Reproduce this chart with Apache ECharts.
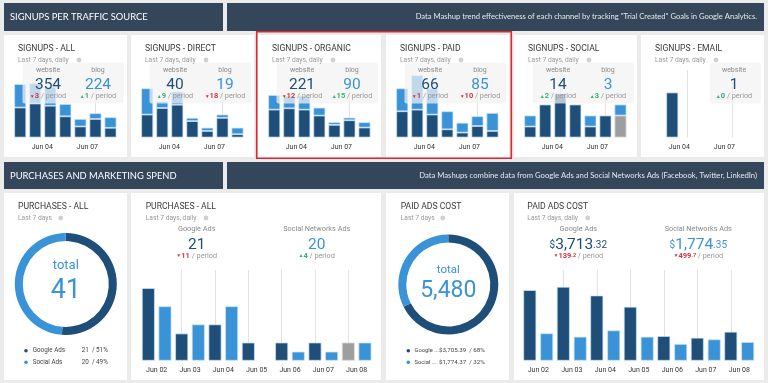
<!DOCTYPE html>
<html><head><meta charset="utf-8">
<script src="https://cdn.jsdelivr.net/npm/echarts@6/dist/echarts.min.js"></script>
<style>html,body{margin:0;padding:0;background:#ebebeb;}#c{width:768px;height:383px;}</style>
</head><body><div id="c"></div>
<script>
// ---------- DATA ----------
const days = ['Jun 02','Jun 03','Jun 04','Jun 05','Jun 06','Jun 07','Jun 08'];

const allWebsite = [68,77,72,48,25,42,22];
const allBlog = [53,46,43,28,17,13,24];
const directWebsite = [7,9,10,5,2,6,1];
const directBlog = [8,2,4,1,1,1,2];
const organicWebsite = [42,44,42,33,19,26,15];
const organicBlog = [22,19,21,12,4,4,8];
const paidWebsite = [16,17,14,5,3,7,4];
const paidBlog = [14,21,16,11,6,6,11];
const socialWebsite = [1,3,4,3,1,2,0];
const socialWebsiteIncomplete = [0,0,0,0,0,0,2];
const socialBlog = [1,0,0,0,1,0,1];
const emailWebsite = [0,1,0,0,0,0,0];

const topTitles = ['SIGNUPS - ALL','SIGNUPS - DIRECT','SIGNUPS - ORGANIC','SIGNUPS - PAID','SIGNUPS - SOCIAL','SIGNUPS - EMAIL'];
const websiteTotals = ['354','40','221','66','14','1'];
const websiteDeltas = ['▼3','▲9','▼12','▼1','▲2','▲0'];
const blogTotals = ['224','19','90','85','3',null];
const blogDeltas = ['▲1','▼18','▲15','▼10','▲3',null];

const purchGoogle = [8,3,4,2,2,2,0];
const purchGoogleIncomplete = [0,0,0,0,0,0,2];
const purchSocial = [6,4,6,0,1,1,2];
const costGoogle = [770.4,806.6,711.9,588.6,269.2,250.7,316.0];
const costSocial = [299,262,331,262,183,233,204];

const purchaseNames = ['Google Ads','Social Ads'];
const purchaseValues = [21,20];
const purchaseLegend = ['21  / 51%','20  / 49%'];
const costNames = ['Google ...','Social ...'];
const costValues = [3705.39,1774.37];
const costLegend = ['$3,705.39  / 68%','$1,774.37  / 32%'];

// ---------- STYLE / LAYOUT ----------
const FONT = 'Roboto, "Noto Sans", sans-serif';
const HFONT = 'Lato, "Open Sans", sans-serif';
const DARK = '#1f4e79', LIGHT = '#3a93d7', GRAY = '#9e9e9e', RED = '#d2363c', GREEN = '#33b36c';
const HEAD = '#34465a';
const BORDER = 'rgba(205,228,246,0.9)';

const graphics = [], grids = [], xAxes = [], yAxes = [], series = [];
const nz = a => a.map(v => v === 0 ? null : v);

function rect(x, y, w, h, fill, z, r) {
  graphics.push({type:'rect', silent:true, z:z, shape:{x:x, y:y, width:w, height:h, r:r||0}, style:{fill:fill}});
}
function text(x, y, str, o) {
  o = o || {};
  const st = {text:str, fontFamily:o.font||FONT, fontSize:o.size||7, fill:o.color||'#888',
    fontWeight:o.weight||'normal',
    align:o.align||'left', verticalAlign:'middle', textAlign:o.align||'left', textVerticalAlign:'middle'};
  if (o.rich) st.rich = o.rich;
  graphics.push({type:'text', silent:true, z:o.z||11, x:x, y:y, style:st});
}
function dot(x, y, r, fill, z) {
  graphics.push({type:'circle', silent:true, z:z||11, shape:{cx:x, cy:y, r:r}, style:{fill:fill}});
}
function deltaText(x, y, d, extra) {
  const up = d.charAt(0) === '▲';
  const col = up ? GREEN : RED;
  const rich = {a:{fill:col, color:col, fontSize:5, fontFamily:FONT},
                v:{fill:col, color:col, fontSize:7.5, fontWeight:'bold', fontFamily:FONT},
                s:{fill:col, color:col, fontSize:5.5, fontWeight:'bold', fontFamily:FONT},
                n:{fill:'#999', color:'#999', fontSize:7.3, fontFamily:FONT}};
  const num = d.slice(1);
  let str;
  if (extra) {
    const p = num.split('.');
    str = '{a|' + d.charAt(0) + '}{v|' + p[0] + '}{s|.' + p[1] + '}{n| / period}';
  } else {
    str = '{a|' + d.charAt(0) + '}{v|' + num + '}{n| / period}';
  }
  text(x, y, str, {align:'center', rich:rich});
}

// Background panels and headers
rect(4, 3, 219, 28, HEAD, -10);
rect(227, 3, 537, 28, HEAD, -10);
rect(4, 162, 219, 27, HEAD, -10);
rect(227, 162, 537, 27, HEAD, -10);
text(10, 17, 'SIGNUPS PER TRAFFIC SOURCE', {font:HFONT, size:9.4, color:'#ffffff'});
text(757, 17, 'Data Mashup trend effectiveness of each channel by tracking "Trial Created" Goals in Google Analytics.', {font:HFONT, size:7.6, color:'#e4e8ec', align:'right'});
text(10, 176, 'PURCHASES AND MARKETING SPEND', {font:HFONT, size:9.4, color:'#ffffff'});
text(757, 176, 'Data Mashups combine data from Google Ads and Social Networks Ads (Facebook, Twitter, LinkedIn)', {font:HFONT, size:7.7, color:'#e4e8ec', align:'right'});

// ---------- TOP PANELS ----------
const topX = [4, 131, 258, 386, 514, 641];
const topMax = [153, 20.6, 101.7, 41.2, 6.14, 1.5];
const topWebsite = [allWebsite, directWebsite, organicWebsite, paidWebsite, socialWebsite, emailWebsite];
const topIncomplete = [null, null, null, null, socialWebsiteIncomplete, null];
const topBlog = [allBlog, directBlog, organicBlog, paidBlog, socialBlog, null];

topX.forEach((px, i) => {
  rect(px, 35, 123, 122, '#ffffff', -10);
  text(px + 14, 49, topTitles[i], {size:8.6, color:'#3a3a3a'});
  text(px + 14, 60.5, 'Last 7 days, daily', {size:6.7, color:'#9a9a9a'});
  dot(px + 75, 60, 2.4, '#d0d0d0');

  grids.push({left:px + 8.7, top:70, width:105.3, height:67.5});
  xAxes.push({type:'category', gridIndex:i, data:days,
    axisLine:{show:false}, axisTick:{show:false}, splitLine:{show:false},
    axisLabel:{interval:(idx) => idx === 2 || idx === 5, fontSize:7, color:'#333', margin:6,
      fontFamily:FONT, padding:[0, 16, 0, 0]}});
  yAxes.push({type:'value', gridIndex:i, min:0, max:topMax[i], show:false});

  const stack = 't' + i;
  series.push({type:'bar', xAxisIndex:i, yAxisIndex:i, stack:stack, barWidth:12,
    data:nz(topWebsite[i]), itemStyle:{color:DARK, borderColor:BORDER, borderWidth:0.8},
    silent:true, animation:false,
    markLine:{z:1, silent:true, symbol:'none', label:{show:false}, animation:false,
      lineStyle:{color:'#e2e2e2', type:'solid', width:1},
      data:[{xAxis:days[2]}, {xAxis:days[5]}]}});
  if (topIncomplete[i]) {
    series.push({type:'bar', xAxisIndex:i, yAxisIndex:i, stack:stack, barWidth:12,
      data:nz(topIncomplete[i]), itemStyle:{color:GRAY, borderColor:'#dddddd', borderWidth:0.8},
      silent:true, animation:false});
  }
  if (topBlog[i]) {
    series.push({type:'bar', xAxisIndex:i, yAxisIndex:i, stack:stack, barWidth:12,
      data:nz(topBlog[i]), itemStyle:{color:LIGHT, borderColor:BORDER, borderWidth:0.8},
      silent:true, animation:false});
  }

  // overlay summary box
  if (blogTotals[i] !== null) {
    rect(px + 18.5, 62.5, 101.5, 41, 'rgba(243,243,243,0.72)', 10, 2);
    text(px + 44, 70, 'website', {size:7, color:'#8a8a8a', align:'center'});
    text(px + 44, 85.5, websiteTotals[i], {size:15.5, color:DARK, align:'center'});
    deltaText(px + 44, 96.5, websiteDeltas[i]);
    text(px + 94, 70, 'blog', {size:7, color:'#8a8a8a', align:'center'});
    text(px + 94, 85.5, blogTotals[i], {size:15.5, color:LIGHT, align:'center'});
    deltaText(px + 94, 96.5, blogDeltas[i]);
  } else {
    rect(px + 69, 62.5, 51, 41, 'rgba(243,243,243,0.72)', 10, 2);
    text(px + 93, 70, 'website', {size:7, color:'#8a8a8a', align:'center'});
    text(px + 93, 85.5, websiteTotals[i], {size:15.5, color:DARK, align:'center'});
    deltaText(px + 93, 96.5, websiteDeltas[i]);
  }
});

// highlight frame
graphics.push({type:'rect', silent:true, z:20, shape:{x:256.7, y:31.7, width:254.6, height:126.6},
  style:{fill:'none', stroke:'#e0262d', lineWidth:1.6}});

// ---------- BOTTOM PANELS ----------
rect(4, 193, 123, 187, '#ffffff', -10);
rect(131, 193, 250, 187, '#ffffff', -10);
rect(386, 193, 123, 187, '#ffffff', -10);
rect(514, 193, 250, 187, '#ffffff', -10);

// donut 1
text(18, 206.7, 'PURCHASES - ALL', {size:8.6, color:'#3a3a3a'});
text(18, 218, 'Last 7 days', {size:6.7, color:'#9a9a9a'});
dot(60.7, 218, 2.4, '#d0d0d0');
text(65.8, 266, 'total', {size:13, color:LIGHT, align:'center'});
text(65.8, 291, String(purchaseValues[0] + purchaseValues[1]), {size:27, color:LIGHT, align:'center'});
[DARK, LIGHT].forEach((c, k) => {
  const y = 350.7 + k * 11.6;
  dot(26, y, 1.8, c);
  text(32.7, y, purchaseNames[k], {size:6.3, color:'#444'});
  text(81.7, y, purchaseLegend[k], {size:6.3, color:'#444'});
});
series.push({type:'pie', center:[65.8, 284], radius:[43, 51], startAngle:90, clockwise:true,
  silent:true, animation:false, label:{show:false}, labelLine:{show:false},
  itemStyle:{borderWidth:0},
  data:purchaseValues.map((v, k) => ({name:purchaseNames[k], value:v, itemStyle:{color:k ? LIGHT : DARK}}))});

// donut 2
text(400.7, 206.7, 'PAID ADS COST', {size:8.6, color:'#3a3a3a'});
text(400.7, 218, 'Last 7 days', {size:6.7, color:'#9a9a9a'});
dot(442.7, 218, 2.4, '#d0d0d0');
text(448.3, 270, 'total', {size:11.5, color:LIGHT, align:'center'});
text(448.3, 291, '5,480', {size:23, color:LIGHT, align:'center'});
[DARK, LIGHT].forEach((c, k) => {
  const y = 350.7 + k * 11.6;
  dot(408.3, y, 1.8, c);
  text(414.5, y, costNames[k], {size:5.8, color:'#444'});
  text(439, y, costLegend[k], {size:6.2, color:'#444'});
});
series.push({type:'pie', center:[448.3, 284.5], radius:[42, 50], startAngle:90, clockwise:true,
  silent:true, animation:false, label:{show:false}, labelLine:{show:false},
  itemStyle:{borderWidth:0},
  data:costValues.map((v, k) => ({name:costNames[k], value:v, itemStyle:{color:k ? LIGHT : DARK}}))});

// bar panels
function bottomBars(gi, left, width, max, g, gInc, s, gap) {
  grids.push({left:left, top:270, width:width, height:90.7});
  xAxes.push({type:'category', gridIndex:gi, data:days,
    axisLine:{show:false}, axisTick:{show:false}, splitLine:{show:false},
    axisLabel:{interval:0, fontSize:7, color:'#333', margin:6, fontFamily:FONT}});
  yAxes.push({type:'value', gridIndex:gi, min:0, max:max, show:false});
  const common = {type:'bar', xAxisIndex:gi, yAxisIndex:gi, barWidth:13, barGap:gap, silent:true, animation:false};
  series.push(Object.assign({}, common, {stack:'g' + gi, data:nz(g),
    itemStyle:{color:DARK, borderColor:BORDER, borderWidth:0.8},
    markLine:{z:1, silent:true, symbol:'none', label:{show:false}, animation:false,
      lineStyle:{color:'#e2e2e2', type:'solid', width:1},
      data:days.slice(1).map(d => ({xAxis:d}))}}));
  if (gInc) series.push(Object.assign({}, common, {stack:'g' + gi, data:nz(gInc),
    itemStyle:{color:GRAY, borderColor:'#dddddd', borderWidth:0.8}}));
  series.push(Object.assign({}, common, {stack:'s' + gi, data:nz(s),
    itemStyle:{color:LIGHT, borderColor:BORDER, borderWidth:0.8}}));
}
bottomBars(6, 140, 233.3, 10, purchGoogle, purchGoogleIncomplete, purchSocial, '28%');
bottomBars(7, 521.5, 234.5, 990, costGoogle, null, costSocial, '30%');

text(145.7, 206.7, 'PURCHASES - ALL', {size:8.6, color:'#3a3a3a'});
text(145.7, 218, 'Last 7 days, daily', {size:6.7, color:'#9a9a9a'});
dot(206, 218, 2.4, '#d0d0d0');
text(196.7, 229.3, 'Google Ads', {size:7.3, color:'#8a8a8a', align:'center'});
text(196.7, 245, '21', {size:15.5, color:DARK, align:'center'});
deltaText(196.7, 255.8, '▼11');
text(316.7, 229.3, 'Social Networks Ads', {size:7.3, color:'#8a8a8a', align:'center'});
text(316.7, 245, '20', {size:15.5, color:LIGHT, align:'center'});
deltaText(316.7, 255.8, '▲4');

text(527.3, 206.7, 'PAID ADS COST', {size:8.6, color:'#3a3a3a'});
text(527.3, 218, 'Last 7 days, daily', {size:6.7, color:'#9a9a9a'});
dot(587.7, 218, 2.4, '#d0d0d0');
text(578.3, 229.3, 'Google Ads', {size:7.3, color:'#8a8a8a', align:'center'});
text(698.3, 229.3, 'Social Networks Ads', {size:7.3, color:'#8a8a8a', align:'center'});
function money(x, y, str, col) {
  const m = str.match(/^\$([\d,]+)(\.\d+)$/);
  const rich = {s:{fill:col, color:col, fontSize:10, fontFamily:FONT}, b:{fill:col, color:col, fontSize:15.5, fontFamily:FONT}};
  text(x, y, '{s|$}{b|' + m[1] + '}{s|' + m[2] + '}', {align:'center', rich:rich});
}
money(578.3, 245, '$3,713.32', DARK);
money(698.3, 245, '$1,774.35', LIGHT);
deltaText(578.3, 255.8, '▼139.2', true);
deltaText(698.3, 255.8, '▼499.7', true);

const chart = echarts.init(document.getElementById('c'), null, {renderer:'canvas'});
chart.setOption({
  backgroundColor:'#ebebeb',
  animation:false,
  textStyle:{fontFamily:FONT},
  grid:grids, xAxis:xAxes, yAxis:yAxes, series:series,
  graphic:{elements:graphics}
});
</script></body></html>
